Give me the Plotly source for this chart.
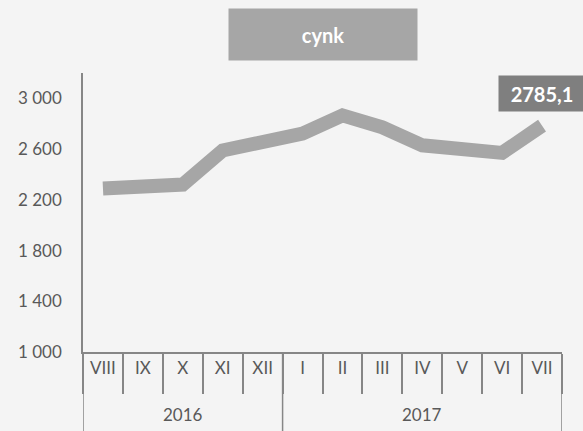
import plotly.graph_objects as go

years = ["2016"] * 5 + ["2017"] * 7
months = ["VIII", "IX", "X", "XI", "XII", "I", "II", "III", "IV", "V", "VI", "VII"]
cynk = [2290, 2305, 2320, 2590, 2660, 2722, 2866, 2772, 2630, 2590, 2570, 2785.1]

title_text = "cynk"
axis_color = "#868686"
text_color = "#595959"
font_name = "Lato"

fig = go.Figure()

fig.add_trace(go.Scatter(
    x=months,
    y=cynk,
    mode="lines",
    line=dict(color="#a6a6a6", width=14),
    hoverinfo="skip",
    showlegend=False,
))

# year groups: separators and labels under month labels
bounds = [0] + [i for i in range(1, len(years)) if years[i] != years[i - 1]] + [len(years)]
for b in bounds:
    fig.add_shape(type="line", xref="x", yref="paper",
                  x0=b - 0.5, x1=b - 0.5, y0=0, y1=-0.3,
                  line=dict(color=axis_color, width=1.5))
for a, b in zip(bounds[:-1], bounds[1:]):
    fig.add_annotation(text=years[a], xref="x", yref="paper",
                       x=(a + b - 1) / 2, y=0, yshift=-62,
                       showarrow=False, yanchor="middle",
                       font=dict(size=17, color=text_color, family=font_name))

# last value label
fig.add_annotation(
    text="<b>" + f"{cynk[-1]:.1f}".replace(".", ",") + "</b>",
    xref="x", yref="y",
    x=months[-1], y=cynk[-1],
    yshift=32, showarrow=False,
    font=dict(color="white", size=20, family=font_name),
    bgcolor="#7f7f7f", width=84, height=33,
)

# title box
fig.add_annotation(
    text="<b>" + title_text + "</b>",
    xref="paper", yref="paper",
    x=0.5, y=1, yanchor="bottom", yshift=12,
    showarrow=False,
    font=dict(color="white", size=20, family=font_name),
    bgcolor="#a6a6a6", width=186, height=49,
)

fig.update_layout(
    width=583, height=431,
    margin=dict(l=83, r=21, t=73, b=79),
    paper_bgcolor="#f4f4f4",
    plot_bgcolor="#f4f4f4",
    separators=", ",
    font=dict(family=font_name, size=17, color=text_color),
)

fig.update_yaxes(
    range=[1000, 3200], tick0=1000, dtick=400,
    tickformat=",d", showgrid=False, zeroline=False,
    showline=True, linecolor=axis_color, linewidth=1.5,
    ticks="", ticklabelstandoff=16, automargin=False,
)

fig.update_xaxes(
    type="category",
    range=[-0.5, len(months) - 0.5],
    tickson="boundaries",
    showgrid=False, zeroline=False,
    showline=True, linecolor=axis_color, linewidth=1.5,
    ticks="outside", ticklen=40, tickcolor=axis_color, tickwidth=1.5,
    ticklabelstandoff=0, automargin=False,
)

fig.write_html("out.html", config={"displayModeBar": False},
               post_script="document.body.style.margin = '0';")
